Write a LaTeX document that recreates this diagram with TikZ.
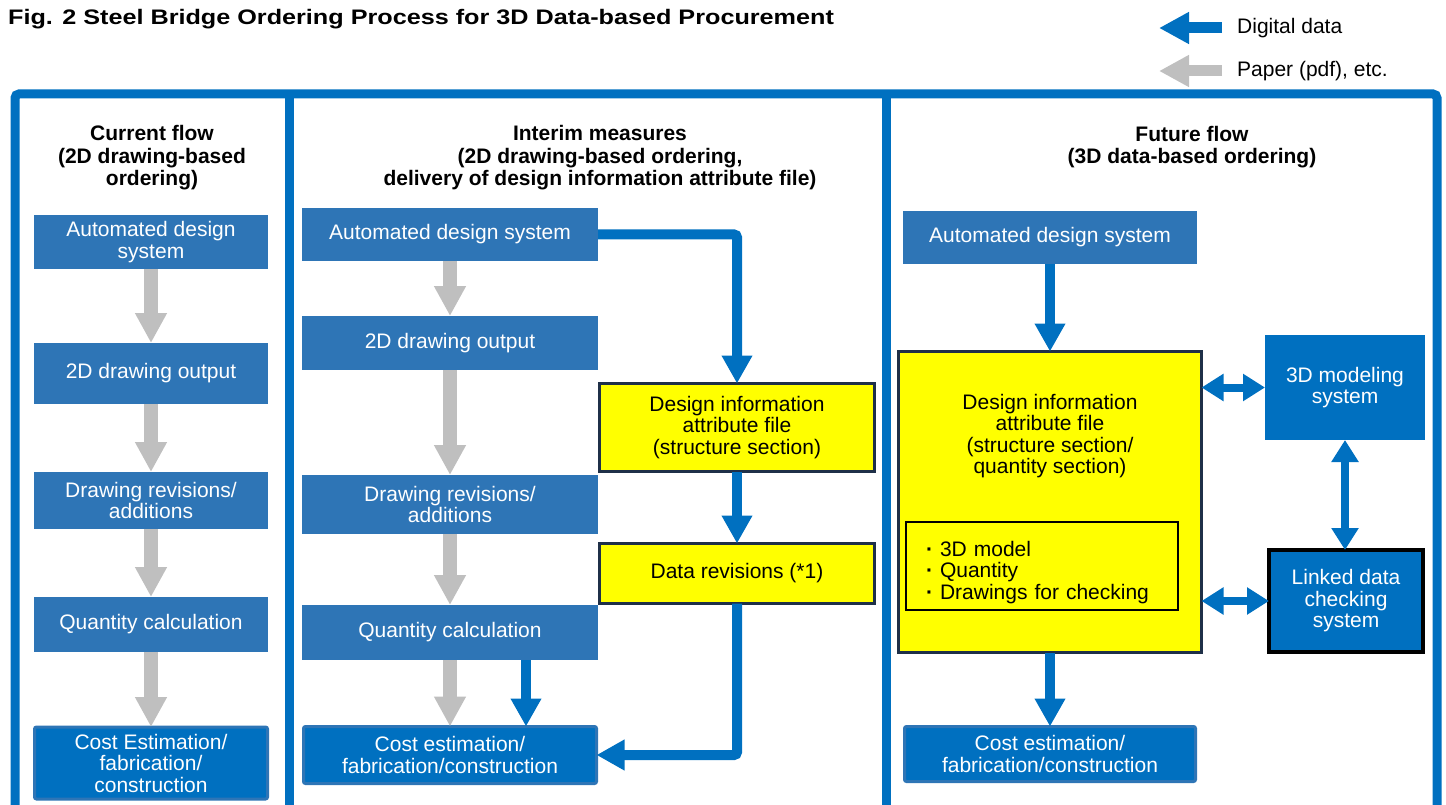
\documentclass[tikz,border=0pt]{standalone}
\usepackage{fontspec}
\setmainfont{Liberation Sans}
\usetikzlibrary{arrows.meta, positioning}
\definecolor{frameblue}{HTML}{0070C0}
\definecolor{boxblue}{HTML}{2E75B6}
\definecolor{attryellow}{HTML}{FFFF00}
\definecolor{attrnavy}{HTML}{1F3048}
\definecolor{papergray}{HTML}{BFBFBF}

\begin{document}
\begin{tikzpicture}[x=1pt, y=-1pt,
		sysbox/.style={fill=boxblue, text=white, font=\fontsize{21}{21.5}\selectfont, align=center, inner sep=0pt, outer sep=0pt},
		costbox/.style={sysbox, fill=frameblue, draw=boxblue, line width=3pt, rounded corners=2pt},
		linkbox/.style={sysbox, fill=frameblue, draw=black, line width=4pt},
		attrbox/.style={fill=attryellow, draw=attrnavy, line width=3pt, font=\fontsize{21}{21.5}\selectfont, align=center, inner sep=0pt, outer sep=0pt},
		attrtext/.style={font=\fontsize{21}{21.5}\selectfont, align=center, inner sep=0pt},
		listbox/.style={draw=black, line width=1.2pt, font=\fontsize{21}{21.5}\selectfont, align=left, text width=232pt, inner xsep=20pt, inner ysep=0pt},
		heading/.style={font=\fontsize{21}{22.5}\selectfont\bfseries, align=center},
		legendtext/.style={font=\fontsize{21}{24}\selectfont, anchor=west, inner sep=0pt},
		paperarrow/.style={-{Triangle[length=30pt, width=30pt]}, line width=14pt, papergray},
		dataarrow/.style={-{Triangle[length=28pt, width=29pt]}, line width=10pt, frameblue},
		linkarrow/.style={{Triangle[length=22pt, width=26pt]}-{Triangle[length=22pt, width=26pt]}, line width=8pt, frameblue},
		keyarrow/.style={-{Triangle[length=30pt, width=30pt]}, line width=11pt},
		panel/.style={frameblue, line width=9pt}
	]
	\useasboundingbox (0,0) rectangle (1446,805);

	% --- Title and legend ---
	\node[anchor=west, inner sep=0pt, font=\fontsize{21}{24}\selectfont\bfseries] (title) at (8,19) {\scalebox{1.2}[1]{Fig. 2 Steel Bridge Ordering Process for 3D Data-based Procurement}};

	\coordinate (digi_tail) at (1222,28);
	\coordinate (digi_tip) at (1159,28);
	\node[legendtext, right=15pt of digi_tail] (digi_lbl) {Digital data};
	\coordinate (paper_tail) at (1222,71);
	\coordinate (paper_tip) at (1159,71);
	\node[legendtext, right=15pt of paper_tail] (paper_lbl) {Paper (pdf), etc.};

	% --- Panel frame ---
	\draw[panel, rounded corners=4pt] (15,815) -- (15,94) -- (1437,94) -- (1437,815);
	\draw[panel] (289,94) -- (289,815);
	\draw[panel] (886,94) -- (886,815);

	% --- Current flow (x = 151) ---
	\node[heading] (head_cur) at (152,158) {Current flow\\(2D drawing-based\\ordering)};
	\node[sysbox, minimum width=234pt, minimum height=54pt] (cur_ads) at (151,242) {Automated design\\system};
	\node[sysbox, minimum width=234pt, minimum height=61pt] (cur_2d) at (151,373.5) {2D drawing output};
	\node[sysbox, minimum width=234pt, minimum height=57pt] (cur_rev) at (151,500.5) {Drawing revisions/\\additions};
	\node[sysbox, minimum width=234pt, minimum height=55pt] (cur_qty) at (151,624.5) {Quantity calculation};
	\node[costbox, minimum width=233pt, minimum height=72pt] (cur_cost) at (151,763) {Cost Estimation/\\fabrication/\\construction};

	% --- Interim measures (x = 450) ---
	\node[heading] (head_int) at (600,158) {Interim measures\\(2D drawing-based ordering,\\delivery of design information attribute file)};
	\node[sysbox, minimum width=296pt, minimum height=53pt] (int_ads) at (450,234.5) {Automated design system};
	\node[sysbox, minimum width=296pt, minimum height=54pt] (int_2d) at (450,343) {2D drawing output};
	\node[sysbox, minimum width=296pt, minimum height=59pt] (int_rev) at (450,504.5) {Drawing revisions/\\additions};
	\node[sysbox, minimum width=296pt, minimum height=55pt] (int_qty) at (450,632.5) {Quantity calculation};
	\node[costbox, minimum width=293pt, minimum height=57pt] (int_cost) at (450,755) {Cost estimation/\\fabrication/construction};
	\node[attrbox, minimum width=275pt, minimum height=88pt] (int_attr) at (737,427.5) {Design information\\attribute file\\(structure section)};
	\node[attrbox, minimum width=275pt, minimum height=60pt] (int_datarev) at (737,573.5) {Data revisions (*1)};

	% --- Future flow (x = 1050) ---
	\node[heading] (head_fut) at (1192,147) {Future flow\\(3D data-based ordering)};
	\node[sysbox, minimum width=294pt, minimum height=53pt] (fut_ads) at (1050,237.5) {Automated design system};
	\node[attrbox, minimum width=303pt, minimum height=301pt] (fut_attr) at (1050,502) {};
	\node[attrtext] (fut_attr_txt) at (1050,436) {Design information\\attribute file\\(structure section/\\quantity section)};
	\node[listbox, minimum height=88pt] (fut_items) at (1042,566) {\rule{0pt}{28pt}\makebox[14pt][l]{\textbf{·}}3D model\\\makebox[14pt][l]{\textbf{·}}Quantity\\\makebox[14pt][l]{\textbf{·}}Drawings for checking};
	\node[sysbox, fill=frameblue, minimum width=160pt, minimum height=105pt] (fut_3d) at (1345,387.5) {3D modeling\\system};
	\node[linkbox, minimum width=154pt, minimum height=102pt] (fut_link) at (1346,601) {Linked data\\checking\\system};
	\node[costbox, minimum width=291pt, minimum height=55pt] (fut_cost) at (1050,754) {Cost estimation/\\fabrication/construction};

	% --- Connections ---
	\draw[keyarrow, frameblue] (digi_tail) -- (digi_tip);
	\draw[keyarrow, papergray] (paper_tail) -- (paper_tip);

	\draw[paperarrow] (cur_ads.south) -- (cur_2d.north);
	\draw[paperarrow] (cur_2d.south) -- (cur_rev.north);
	\draw[paperarrow] (cur_rev.south) -- (cur_qty.north);
	\draw[paperarrow] (cur_qty.south) -- (cur_cost.north);

	\draw[paperarrow] (int_ads.south) -- (int_2d.north);
	\draw[paperarrow] (int_2d.south) -- (int_rev.north);
	\draw[paperarrow] (int_rev.south) -- (int_qty.north);
	\draw[paperarrow] (int_qty.south) -- (int_cost.north);
	\draw[dataarrow] ([xshift=76pt]int_qty.south) -- ([xshift=76pt]int_cost.north);
	\draw[dataarrow, rounded corners=3pt] (int_ads.east) -| (int_attr.north);
	\draw[dataarrow] (int_attr.south) -- (int_datarev.north);
	\draw[dataarrow, rounded corners=3pt] (int_datarev.south) |- (int_cost.east);

	\draw[dataarrow] (fut_ads.south) -- (fut_attr.north);
	\draw[dataarrow] (fut_attr.south) -- (fut_cost.north);
	\draw[linkarrow] (fut_attr.east |- fut_3d.west) -- (fut_3d.west);
	\draw[linkarrow] (fut_attr.east |- fut_link.west) -- (fut_link.west);
	\draw[linkarrow] (fut_3d.south) -- (fut_3d.south |- fut_link.north);

\end{tikzpicture}
\end{document}
